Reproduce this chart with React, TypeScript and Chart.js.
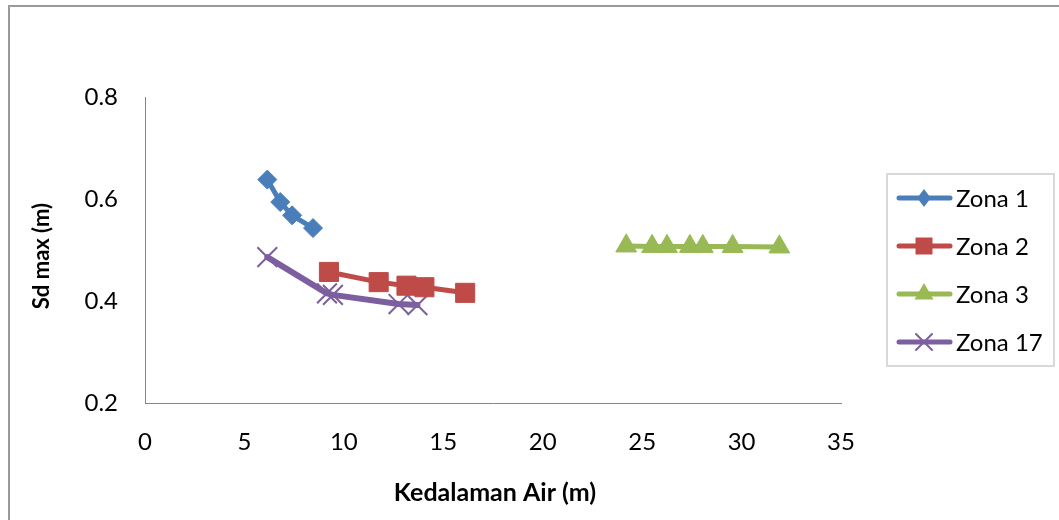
import React, { useEffect, useRef } from 'react';
import { Chart, registerables } from 'chart.js';

Chart.register(...registerables);

const zona1X = [6.15, 6.8, 7.4, 8.45];
const zona1Y = [0.638, 0.594, 0.568, 0.543];
const zona2X = [9.25, 11.75, 13.15, 14.05, 16.1];
const zona2Y = [0.457, 0.437, 0.430, 0.427, 0.416];
const zona3X = [24.2, 25.5, 26.25, 27.4, 28.05, 29.55, 31.9];
const zona3Y = [0.508, 0.507, 0.507, 0.507, 0.507, 0.507, 0.506];
const zona17X = [6.15, 9.15, 9.45, 12.75, 13.7];
const zona17Y = [0.486, 0.415, 0.412, 0.394, 0.392];

const seriesNames = ['Zona 1', 'Zona 2', 'Zona 3', 'Zona 17'];
const seriesColors = ['#4a7ebb', '#be4b48', '#98b954', '#7d5fa0'];
const xTickValues = [0, 5, 10, 15, 20, 25, 30, 35];
const yTickValues = [0.2, 0.4, 0.6, 0.8];
const xTitle = 'Kedalaman Air (m)';
const yTitle = 'Sd max (m)';

const FONT = 'Lato, "Open Sans", sans-serif';

function pts(xs: number[], ys: number[]) {
  return xs.map((x, i) => ({ x, y: ys[i] }));
}

function drawMarker(ctx: CanvasRenderingContext2D, style: string, x: number, y: number, color: string) {
  ctx.save();
  ctx.fillStyle = color;
  ctx.strokeStyle = color;
  ctx.beginPath();
  if (style === 'rectRot') {
    const r = 9;
    ctx.moveTo(x, y - r);
    ctx.lineTo(x + r * 0.75, y);
    ctx.lineTo(x, y + r);
    ctx.lineTo(x - r * 0.75, y);
    ctx.closePath();
    ctx.fill();
  } else if (style === 'rect') {
    const s = 8.5;
    ctx.rect(x - s, y - s, 2 * s, 2 * s);
    ctx.fill();
  } else if (style === 'triangle') {
    const r = 11;
    ctx.moveTo(x, y - r);
    ctx.lineTo(x + r * 0.866, y + r * 0.5);
    ctx.lineTo(x - r * 0.866, y + r * 0.5);
    ctx.closePath();
    ctx.fill();
  } else {
    const r = 8;
    ctx.lineWidth = 2;
    ctx.moveTo(x - r, y - r);
    ctx.lineTo(x + r, y + r);
    ctx.moveTo(x + r, y - r);
    ctx.lineTo(x - r, y + r);
    ctx.stroke();
  }
  ctx.restore();
}

const markerStyles = ['rectRot', 'rect', 'triangle', 'crossRot'];

const decorPlugin = {
  id: 'decor',
  beforeDraw(chart: any) {
    const ctx = chart.ctx as CanvasRenderingContext2D;
    ctx.save();
    ctx.fillStyle = '#ffffff';
    ctx.fillRect(0, 0, chart.width, chart.height);
    ctx.strokeStyle = '#9a9a9a';
    ctx.lineWidth = 2;
    ctx.strokeRect(9, 6, 1200, 700);
    ctx.restore();
  },
  afterDraw(chart: any) {
    const ctx = chart.ctx as CanvasRenderingContext2D;
    const area = chart.chartArea;
    ctx.save();
    // axis titles
    ctx.fillStyle = '#000000';
    ctx.textAlign = 'center';
    ctx.textBaseline = 'middle';
    ctx.font = `bold 25px ${FONT}`;
    ctx.fillText(xTitle, 495, 493);
    ctx.save();
    ctx.font = `bold 22px ${FONT}`;
    ctx.translate(42, 256);
    ctx.rotate(-Math.PI / 2);
    ctx.fillText(yTitle, 0, 0);
    ctx.restore();

    // legend
    ctx.strokeStyle = '#d9d9d9';
    ctx.lineWidth = 2;
    ctx.strokeRect(887, 174, 167, 192);
    ctx.font = `24px ${FONT}`;
    ctx.textAlign = 'left';
    seriesNames.forEach((name, i) => {
      const cy = 198 + i * 48;
      ctx.strokeStyle = seriesColors[i];
      ctx.lineWidth = 5;
      ctx.lineCap = 'round';
      ctx.beginPath();
      ctx.moveTo(899, cy);
      ctx.lineTo(950, cy);
      ctx.stroke();
      drawMarker(ctx, markerStyles[i], 924, cy, seriesColors[i]);
      ctx.fillStyle = '#000000';
      ctx.fillText(name, 956, cy + 1);
    });
    ctx.restore();
  },
};

export default function App() {
  const ref = useRef<HTMLCanvasElement | null>(null);

  useEffect(() => {
    if (!ref.current) return;
    const mk = (i: number, xs: number[], ys: number[], radius: number, lineW: number, pbw: number) => ({
      label: seriesNames[i],
      data: pts(xs, ys),
      borderColor: seriesColors[i],
      backgroundColor: seriesColors[i],
      borderWidth: lineW,
      pointStyle: markerStyles[i],
      pointRadius: radius,
      pointHoverRadius: radius,
      pointBorderWidth: pbw,
      pointBorderColor: seriesColors[i],
      pointBackgroundColor: seriesColors[i],
      showLine: true,
      tension: 0,
      borderCapStyle: 'round',
      borderJoinStyle: 'round',
    });
    const chart = new Chart(ref.current, {
      type: 'scatter',
      data: {
        datasets: [
          mk(0, zona1X, zona1Y, 9.5, 5, 1),
          mk(1, zona2X, zona2Y, 13.5, 5, 1),
          mk(2, zona3X, zona3Y, 12, 5, 1),
          mk(3, zona17X, zona17Y, 14, 6, 2),
        ] as any,
      },
      options: {
        animation: false,
        responsive: false,
        devicePixelRatio: 1,
        layout: { padding: { left: 0, top: 97, right: 218, bottom: 0 } },
        plugins: {
          legend: { display: false },
          tooltip: { enabled: false },
          title: { display: false },
        },
        scales: {
          x: {
            type: 'linear',
            min: 0,
            max: 35,
            afterFit: (s: any) => { s.height = 117; },
            afterBuildTicks: (s: any) => { s.ticks = xTickValues.map((v) => ({ value: v })); },
            grid: { drawOnChartArea: false, drawTicks: false },
            border: { display: true, color: '#868686', width: 1 },
            ticks: {
              padding: 25,
              color: '#000000',
              font: { family: FONT, size: 24 },
              callback: (v: any) => String(v),
              maxRotation: 0,
            },
          },
          y: {
            type: 'linear',
            min: 0.2,
            max: 0.8,
            afterFit: (s: any) => { s.width = 145; },
            afterBuildTicks: (s: any) => { s.ticks = yTickValues.map((v) => ({ value: v })); },
            grid: { drawOnChartArea: false, drawTicks: false },
            border: { display: true, color: '#868686', width: 1 },
            ticks: {
              padding: 27,
              color: '#000000',
              font: { family: FONT, size: 24 },
              callback: (v: any) => Number(v).toFixed(1),
            },
          },
        },
      } as any,
      plugins: [decorPlugin],
    });
    return () => chart.destroy();
  }, []);

  return (
    <div style={{ position: 'fixed', left: 0, top: 0, width: 1059, height: 520, background: '#fff' }}>
      <canvas ref={ref} width={1059} height={520} style={{ display: 'block', width: 1059, height: 520 }} />
    </div>
  );
}
